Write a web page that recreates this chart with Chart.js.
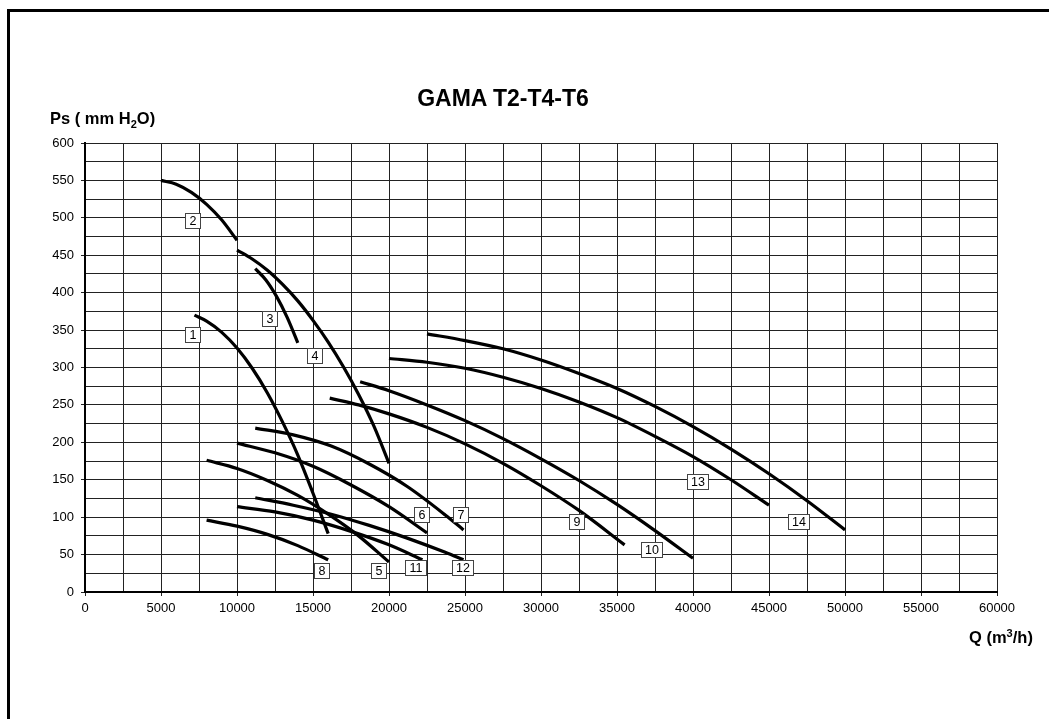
<!DOCTYPE html>
<html>
<head>
<meta charset="utf-8">
<script src="https://cdn.jsdelivr.net/npm/chart.js@4/dist/chart.umd.min.js"></script>
<style>
  html, body { margin: 0; padding: 0; background: #fff; }
  #wrap { position: relative; width: 1049px; height: 719px; overflow: hidden; font-family: "Liberation Sans", Arial, sans-serif; }
  #frame { position: absolute; left: 7px; top: 9px; width: 1100px; height: 800px; border-left: 3px solid #000; border-top: 3px solid #000; }
  .ttl { position: absolute; font-weight: bold; line-height: 1; white-space: nowrap; color: #000; }
  #title { font-size: 23px; top: 87px; left: 503px; transform: translateX(-50%); }
  #ytitle { font-size: 16.5px; top: 110px; left: 50px; }
  #xtitle { font-size: 16.5px; top: 629px; left: 969px; }
  .ttl sub, .ttl sup { font-size: 11px; line-height: 0; }
  canvas { position: absolute; left: 0; top: 0; }
</style>
</head>
<body>
<div id="wrap">
  <div id="frame"></div>
  <canvas id="c" width="1049" height="719"></canvas>
  <div class="ttl" id="title">GAMA T2-T4-T6</div>
  <div class="ttl" id="ytitle">Ps ( mm H<sub>2</sub>O)</div>
  <div class="ttl" id="xtitle">Q (m<sup>3</sup>/h)</div>
</div>
<script>
// curves: Q (m3/h) and Ps (mm H2O)
const curveQ = {
  1: [7200, 8000, 9000, 10000, 11000, 12000, 13000, 14000, 15000, 16000],
  2: [5000, 6000, 7000, 8000, 9000, 10000],
  3: [11200, 11900, 12600, 13300, 14000],
  4: [10000, 11000, 12000, 13000, 14000, 15000, 16000, 17000, 18000, 19000, 20000],
  5: [8000, 10000, 12000, 14000, 16000, 18000, 20000],
  6: [10000, 12500, 15000, 17500, 20000, 22500],
  7: [11200, 13700, 16200, 18700, 21200, 23700, 24900],
  8: [8000, 10000, 12000, 14000, 16000],
  9: [16100, 18000, 20000, 22500, 25000, 27500, 30000, 32500, 35500],
  10: [18100, 20000, 22500, 25000, 27500, 30000, 32500, 35000, 37500, 40000],
  11: [10000, 12500, 15000, 17500, 20000, 22200],
  12: [11200, 13700, 16200, 18700, 21200, 23700, 24900],
  13: [20000, 22500, 25000, 27500, 30000, 32500, 35000, 37500, 40000, 42500, 45000],
  14: [22500, 25000, 27500, 30000, 32500, 35000, 37500, 40000, 42500, 45000, 47500, 50000]
};
const curvePs = {
  1: [370, 362, 347, 326, 299, 266, 227, 183, 132, 78],
  2: [550, 545, 534, 518, 497, 470],
  3: [432, 417, 395, 367, 333],
  4: [457, 445, 430, 411, 389, 363, 334, 301, 264, 222, 172],
  5: [176, 165, 149, 129, 104, 75, 40],
  6: [199, 186, 168, 143, 114, 79],
  7: [219, 210, 195, 171, 141, 103, 83],
  8: [96, 88, 77, 62, 43],
  9: [259, 250, 238, 220, 198, 172, 142, 109, 63],
  10: [281, 269, 250, 229, 205, 178, 149, 117, 82, 45],
  11: [114, 107, 96, 81, 63, 43],
  12: [126, 116, 104, 89, 72, 53, 43],
  13: [312, 307, 299, 287, 272, 254, 233, 208, 181, 150, 116],
  14: [345, 336, 325, 310, 292, 272, 248, 221, 191, 158, 122, 83]
};
// boxed curve numbers
const labelText = ["1", "2", "3", "4", "5", "6", "7", "8", "9", "10", "11", "12", "13", "14"];
const labelQ = [7100, 7100, 12200, 15100, 19350, 22200, 24750, 15600, 32400, 37300, 21800, 24900, 40350, 47000];
const labelPs = [343, 496, 365, 315, 28, 103, 103, 28, 94, 56, 32, 32, 147, 94];

const xTicks = [0, 5000, 10000, 15000, 20000, 25000, 30000, 35000, 40000, 45000, 50000, 55000, 60000];
const yTicks = [0, 50, 100, 150, 200, 250, 300, 350, 400, 450, 500, 550, 600];

const datasets = Object.keys(curveQ).map(k => ({
  label: k,
  data: curveQ[k].map((q, i) => ({ x: q, y: curvePs[k][i] })),
  borderColor: "#000",
  borderWidth: 3.2,
  pointRadius: 0,
  fill: false,
  cubicInterpolationMode: "monotone",
  borderCapStyle: "butt"
}));

const boxLabels = {
  id: "boxLabels",
  afterDatasetsDraw(chart) {
    const ctx = chart.ctx, xs = chart.scales.x, ys = chart.scales.y;
    ctx.save();
    ctx.font = "12.5px 'Liberation Sans', Arial, sans-serif";
    ctx.textAlign = "center";
    ctx.textBaseline = "middle";
    labelText.forEach((t, i) => {
      const cx = Math.round(xs.getPixelForValue(labelQ[i]));
      const cy = Math.round(ys.getPixelForValue(labelPs[i]));
      const w = t.length > 1 ? 22 : 16, h = 16;
      ctx.fillStyle = "#fff";
      ctx.fillRect(cx - w / 2, cy - h / 2, w, h);
      ctx.strokeStyle = "#444";
      ctx.lineWidth = 1;
      ctx.strokeRect(cx - w / 2 + 0.5, cy - h / 2 + 0.5, w - 1, h - 1);
      ctx.fillStyle = "#000";
      ctx.fillText(t, cx, cy + 1);
    });
    ctx.restore();
  }
};

new Chart(document.getElementById("c"), {
  type: "line",
  data: { datasets: datasets },
  plugins: [boxLabels],
  options: {
    responsive: false,
    animation: false,
    events: [],
    layout: { padding: { left: 0, top: 143, right: 52, bottom: 97 } },
    plugins: { legend: { display: false }, tooltip: { enabled: false } },
    scales: {
      x: {
        type: "linear",
        min: 0, max: 60000,
        afterFit: s => { s.height = 30; },
        afterBuildTicks: s => {
          const t = [];
          for (let v = 0; v <= 60000; v += 2500) t.push({ value: v });
          s.ticks = t;
        },
        ticks: {
          autoSkip: false, maxRotation: 0, padding: 5, color: "#000",
          font: { family: "'Liberation Sans', Arial, sans-serif", size: 13 },
          callback: v => xTicks.includes(v) ? String(v) : ""
        },
        grid: {
          color: "#222", lineWidth: 1, tickLength: 4,
          tickColor: c => xTicks.includes(c.tick.value) ? "#222" : "rgba(0,0,0,0)"
        },
        border: { color: "#000", width: 2 }
      },
      y: {
        type: "linear",
        min: 0, max: 600,
        afterFit: s => { s.width = 85; },
        afterBuildTicks: s => {
          const t = [];
          for (let v = 0; v <= 600; v += 25) t.push({ value: v });
          s.ticks = t;
        },
        ticks: {
          autoSkip: false, padding: 7, color: "#000",
          font: { family: "'Liberation Sans', Arial, sans-serif", size: 13 },
          callback: v => yTicks.includes(v) ? String(v) : ""
        },
        grid: {
          color: "#222", lineWidth: 1, tickLength: 4,
          tickColor: c => yTicks.includes(c.tick.value) ? "#222" : "rgba(0,0,0,0)"
        },
        border: { color: "#000", width: 2 }
      }
    }
  }
});
</script>
</body>
</html>
